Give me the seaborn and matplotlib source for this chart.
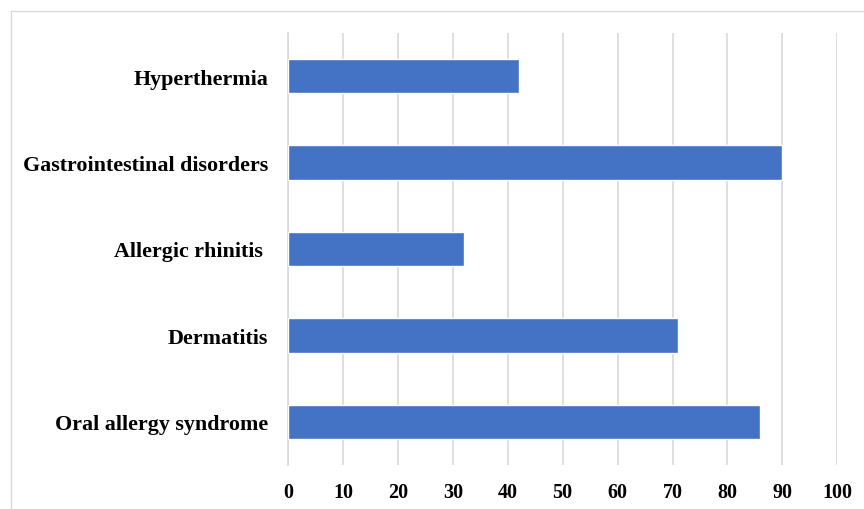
import matplotlib
matplotlib.use("Agg")
import matplotlib.pyplot as plt
import seaborn as sns
import pandas as pd
from matplotlib.patches import Rectangle

categories = ["Hyperthermia", "Gastrointestinal disorders", "Allergic rhinitis ",
              "Dermatitis", "Oral allergy syndrome"]
values = [42, 90, 32, 71, 86]
x_ticks = [0, 10, 20, 30, 40, 50, 60, 70, 80, 90, 100]

df = pd.DataFrame({"category": categories, "value": values})

sns.set_theme(style="white")
plt.rcParams["font.family"] = ["Liberation Serif", "DejaVu Serif"]
plt.rcParams["text.color"] = "black"
plt.rcParams["xtick.color"] = "black"
plt.rcParams["ytick.color"] = "black"

fig = plt.figure(figsize=(8.64, 5.10), dpi=100)
ax = fig.add_axes([288 / 864, 1 - 466 / 510, (837.3 - 288) / 864, (466 - 34) / 510])

sns.barplot(data=df, x="value", y="category", orient="h", color="#4472C4",
            saturation=1, width=0.4, ax=ax, zorder=3)

ax.set_xlim(0, 100)
ax.set_xticks(x_ticks)
ax.set_xticklabels([str(t) for t in x_ticks], fontsize=14.5, fontweight="bold")
ax.tick_params(axis="y", labelsize=15.8, length=0, pad=14.4, labelcolor="black")
ax.tick_params(axis="x", length=0, pad=12, labelcolor="black")
for lbl in ax.get_yticklabels():
    lbl.set_fontweight("bold")
ax.set_xlabel("")
ax.set_ylabel("")
ax.grid(axis="x", color="#d9d9d9", linewidth=1.2, zorder=0)
for s in ["top", "right", "bottom"]:
    ax.spines[s].set_visible(False)
ax.spines["left"].set_color("#d9d9d9")
ax.spines["left"].set_linewidth(1.2)

# outer frame
fig.patches.append(Rectangle((11 / 864, -0.05), 1.1, 1 - 12 / 510 + 0.05,
                             transform=fig.transFigure, fill=False,
                             edgecolor="#d9d9d9", linewidth=1.0))

fig.savefig("out.png", dpi=100)
